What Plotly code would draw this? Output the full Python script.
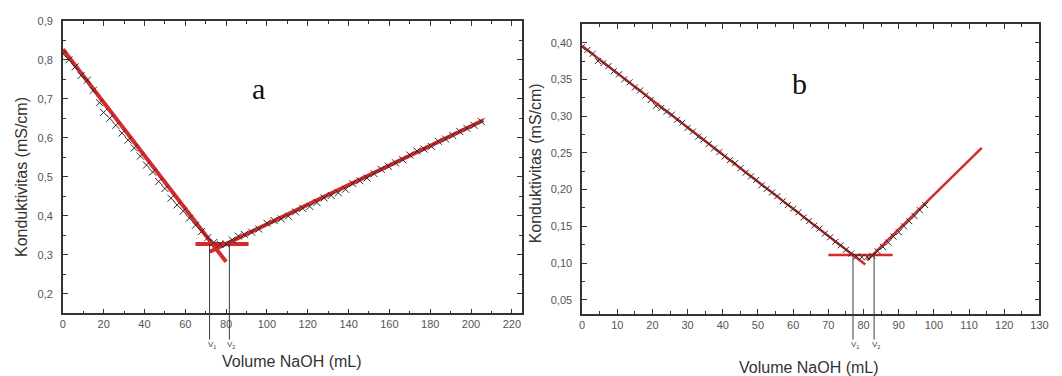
import plotly.graph_objects as go

# ---------------- Panel a data ----------------
a_vol = [0, 3, 6, 9, 12, 15, 18, 20, 23, 26, 29, 32, 35, 38, 41, 44, 47, 50, 53, 56,
         59, 62, 65, 68, 71, 74, 77, 80, 83, 86, 89, 92.5, 96, 100, 103.5, 107, 110.5,
         114, 117.5, 121, 124.5, 128, 131.5, 135, 138.5, 142, 145.5, 149, 152.5, 156,
         159.5, 163, 166.5, 170, 173.5, 177, 180.5, 184, 187.5, 191, 194.5, 198, 201.5, 205]
a_cond = [0.815, 0.800, 0.782, 0.760, 0.748, 0.722, 0.690, 0.665, 0.650, 0.632, 0.612,
          0.594, 0.574, 0.553, 0.530, 0.512, 0.488, 0.470, 0.445, 0.428, 0.412, 0.394,
          0.376, 0.360, 0.344, 0.332, 0.327, 0.328, 0.338, 0.348, 0.352, 0.358, 0.366,
          0.381, 0.388, 0.392, 0.399, 0.410, 0.419, 0.424, 0.434, 0.446, 0.452, 0.459,
          0.468, 0.483, 0.490, 0.497, 0.508, 0.519, 0.527, 0.536, 0.544, 0.556, 0.566,
          0.571, 0.578, 0.591, 0.597, 0.606, 0.616, 0.624, 0.632, 0.642]
a_fit1_x = [0, 80]
a_fit1_y = [0.827, 0.282]
a_fit2_x = [72, 206]
a_fit2_y = [0.308, 0.645]
a_hline_x = [65, 91]
a_hline_y = [0.328, 0.328]
a_vmarks = [71.9, 81.6]
a_vlevel = 0.328

# ---------------- Panel b data ----------------
b_vol = [0, 1.5, 3, 4.5, 6, 7.5, 9, 10.5, 12, 13.5, 15, 16.5, 18, 19.5, 21, 22.5, 24,
         25.5, 27, 28.5, 30, 31.5, 33, 34.5, 36, 37.5, 39, 40.5, 42, 43.5, 45, 46.5, 48,
         49.5, 51, 52.5, 54, 55.5, 57, 58.5, 60, 61.5, 63, 64.5, 66, 67.5, 69, 70.5, 72,
         73.5, 75, 76.5, 78, 79.5, 81, 82.5, 84, 85.5, 87, 88.5, 90, 91.5, 93, 94.5, 96, 97.5]
b_cond = [0.394, 0.390, 0.385, 0.375, 0.372, 0.368, 0.361, 0.357, 0.350, 0.346, 0.339,
          0.335, 0.328, 0.322, 0.314, 0.311, 0.306, 0.302, 0.295, 0.291, 0.284, 0.279,
          0.272, 0.268, 0.262, 0.256, 0.251, 0.245, 0.240, 0.236, 0.229, 0.223, 0.218,
          0.213, 0.206, 0.201, 0.196, 0.191, 0.184, 0.179, 0.174, 0.169, 0.162, 0.157,
          0.151, 0.147, 0.140, 0.135, 0.129, 0.124, 0.118, 0.113, 0.109, 0.108, 0.108,
          0.110, 0.116, 0.122, 0.128, 0.136, 0.142, 0.150, 0.157, 0.164, 0.172, 0.179]
b_fit1_x = [0, 80.5]
b_fit1_y = [0.3955, 0.098]
b_fit2_x = [81, 113.6]
b_fit2_y = [0.1036, 0.2567]
b_hline_x = [70, 88.3]
b_hline_y = [0.111, 0.111]
b_vmarks = [77.0, 83.0]
b_vlevel = 0.111

v_labels = ["V<sub>1</sub>", "V<sub>2</sub>"]
x_title = "Volume NaOH (mL)"
y_title = "Konduktivitas (mS/cm)"

# ---------------- layout geometry ----------------
W, H = 1062, 376
def px_x(p):
    return p / W
def px_y(p):
    return 1 - p / H

a_xdom = [px_x(60.5), px_x(525)]
a_ydom = [px_y(312.3), px_y(15)]
b_xdom = [px_x(585.7), px_x(1048.3)]
b_ydom = [px_y(312.7), px_y(18.3)]
a_xr = [0, 225]
a_yr = [0.15, 0.9001]
b_xr = [0, 130]
b_yr = [0.031, 0.4254]

RED = "#d42a2a"
AX = "#333333"
TICKC = "#555555"
FONT = "Liberation Sans, Arial, sans-serif"
SERIF = "Liberation Serif, Times New Roman, serif"

fig = go.Figure()

def add_panel(xa, ya, vol, cond, f1x, f1y, f2x, f2y, hx, hy, lw, msize):
    for xs, ys in ((f1x, f1y), (f2x, f2y), (hx, hy)):
        fig.add_trace(go.Scatter(x=xs, y=ys, mode="lines", xaxis=xa, yaxis=ya,
                                 line=dict(color=RED, width=lw), showlegend=False,
                                 hoverinfo="skip"))
    fig.add_trace(go.Scatter(x=vol, y=cond, mode="markers", xaxis=xa, yaxis=ya,
                             marker=dict(symbol="x-thin", size=msize,
                                         line=dict(width=1, color="#2a2a2a")),
                             showlegend=False))

add_panel("x", "y", a_vol, a_cond, a_fit1_x, a_fit1_y, a_fit2_x, a_fit2_y,
          a_hline_x, a_hline_y, 4, 7)
add_panel("x2", "y2", b_vol, b_cond, b_fit1_x, b_fit1_y, b_fit2_x, b_fit2_y,
          b_hline_x, b_hline_y, 2.5, 6)

def axis_common():
    return dict(showline=True, linecolor=AX, linewidth=1.5, mirror="ticks",
                ticks="inside", ticklen=5, tickwidth=1.2, tickcolor=AX,
                showgrid=False, zeroline=False,
                tickfont=dict(family=FONT, size=11, color=TICKC))

fig.update_layout(
    width=W, height=H, margin=dict(l=0, r=0, t=0, b=0),
    paper_bgcolor="white", plot_bgcolor="white",
    separators=",.", showlegend=False,
    xaxis=dict(domain=a_xdom, range=a_xr, anchor="y", tick0=0, dtick=20,
               minor=dict(ticks="inside", ticklen=3, dtick=10, tickcolor=AX, tickwidth=1),
               **axis_common()),
    yaxis=dict(domain=a_ydom, range=a_yr, anchor="x", tick0=0.2, dtick=0.1,
               tickformat=".1f", ticklabelstandoff=6,
               minor=dict(ticks="inside", ticklen=3, dtick=0.05, tickcolor=AX, tickwidth=1),
               **axis_common()),
    xaxis2=dict(domain=b_xdom, range=b_xr, anchor="y2", tick0=0, dtick=10,
                minor=dict(ticks="inside", ticklen=3, dtick=5, tickcolor=AX, tickwidth=1),
                **axis_common()),
    yaxis2=dict(domain=b_ydom, range=b_yr, anchor="x2", tick0=0.05, dtick=0.05,
                tickformat=".2f", ticklabelstandoff=6,
                minor=dict(ticks="inside", ticklen=3, dtick=0.025, tickcolor=AX, tickwidth=1),
                **axis_common()),
)

def to_paper(val, rng, dom):
    return dom[0] + (val - rng[0]) / (rng[1] - rng[0]) * (dom[1] - dom[0])

v_bottom = px_y(339)
annots = []
shapes = []
for xa, marks, level, yr, ydom in (("x", a_vmarks, a_vlevel, a_yr, a_ydom),
                                   ("x2", b_vmarks, b_vlevel, b_yr, b_ydom)):
    top = to_paper(level, yr, ydom)
    for m, lab in zip(marks, v_labels):
        shapes.append(dict(type="line", xref=xa, yref="paper", x0=m, x1=m,
                           y0=top, y1=v_bottom, line=dict(color="#3a3a3a", width=1)))
        annots.append(dict(xref=xa, yref="paper", x=m, y=px_y(337), text=lab,
                           showarrow=False, xanchor="left", yanchor="top", xshift=-4,
                           font=dict(family=FONT, size=8, color="#444")))

def centered(x, y, text, font, angle=0):
    return dict(xref="paper", yref="paper", x=x, y=y, text=text, textangle=angle,
                showarrow=False, xanchor="center", yanchor="middle", font=font)

tfont = dict(family=FONT, size=16, color=AX)
lfont = dict(family=SERIF, size=30, color="#111")
annots += [
    centered((a_xdom[0] + a_xdom[1]) / 2, px_y(361), x_title, tfont),
    centered((b_xdom[0] + b_xdom[1]) / 2 - 0.002, px_y(367), x_title, tfont),
    centered(px_x(18), px_y(174), y_title, tfont, -90),
    centered(px_x(539), px_y(160), y_title, tfont, -90),
    centered(px_x(258), px_y(84), "a", lfont),
    centered(px_x(806), px_y(79), "b", lfont),
]
fig.update_layout(annotations=annots, shapes=shapes)

fig.write_html("out.html")
